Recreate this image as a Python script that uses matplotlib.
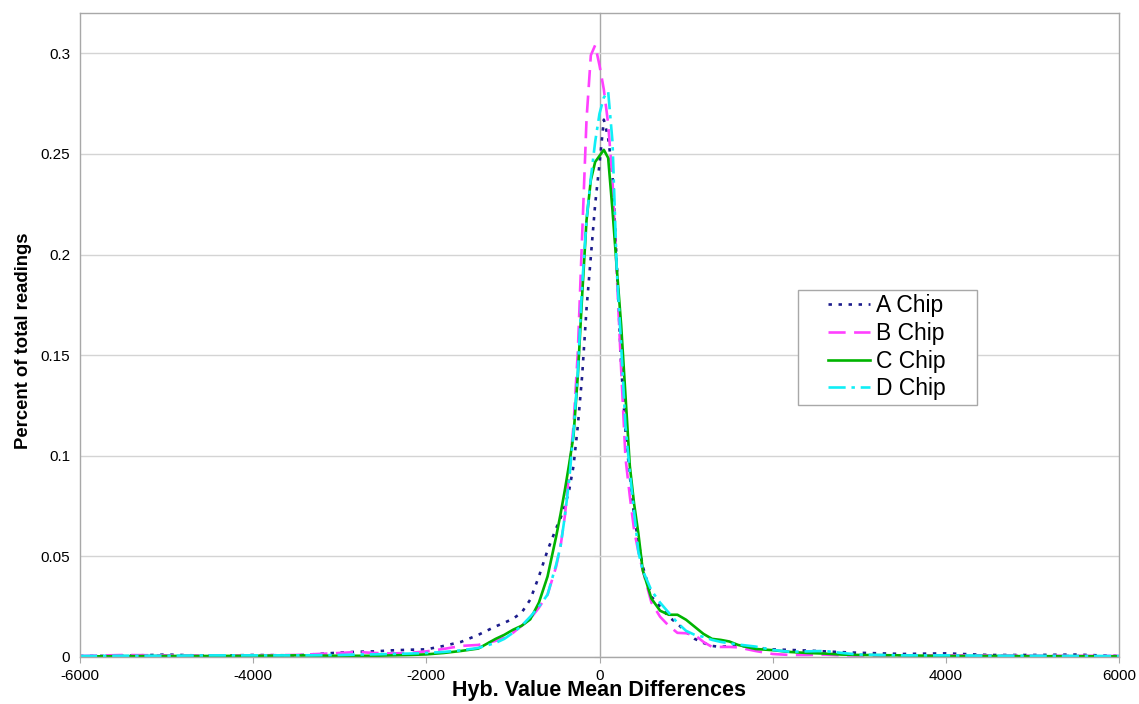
import matplotlib
matplotlib.use("Agg")
import matplotlib.pyplot as plt
from matplotlib.patches import Rectangle
from matplotlib.ticker import FuncFormatter, MultipleLocator

plt.rcParams['font.family'] = ['Liberation Sans', 'DejaVu Sans']
plt.rcParams['axes.unicode_minus'] = False

# hybridisation value differences (bin centres)
diffs = [-6000, -5500, -5000, -4500, -4000, -3500, -3000, -2800, -2600, -2400,
         -2200, -2000, -1800, -1600, -1400, -1200, -1100, -1000, -900, -800,
         -700, -600, -500, -450, -400, -350, -300, -250, -200, -150,
         -100, -50, 0, 50, 100, 150, 200, 250, 300, 350,
         400, 450, 500, 600, 700, 800, 900, 1000, 1100, 1200,
         1300, 1400, 1500, 1600, 1800, 2000, 2200, 2400, 2600, 2800,
         3000, 3500, 4000, 4500, 5000, 5500, 6000]

chip_a = [0.0005, 0.0006, 0.0012, 0.0006, 0.0010, 0.0008, 0.0022, 0.0026, 0.0028, 0.0033,
          0.0036, 0.0038, 0.0055, 0.0075, 0.0110, 0.0152, 0.0170, 0.0190, 0.0220, 0.0285,
          0.0400, 0.0530, 0.0640, 0.0690, 0.0750, 0.0830, 0.0950, 0.1150, 0.1400, 0.1730,
          0.1990, 0.2250, 0.2450, 0.2670, 0.2580, 0.2400, 0.1950, 0.1450, 0.1120, 0.0900,
          0.0700, 0.0570, 0.0450, 0.0300, 0.0250, 0.0200, 0.0165, 0.0125, 0.0090, 0.0070,
          0.0055, 0.0050, 0.0055, 0.0058, 0.0045, 0.0038, 0.0035, 0.0032, 0.0028, 0.0024,
          0.0021, 0.0015, 0.0018, 0.0010, 0.0010, 0.0012, 0.0005]

chip_b = [0.0005, 0.0010, 0.0008, 0.0007, 0.0008, 0.0010, 0.0020, 0.0025, 0.0020, 0.0018,
          0.0020, 0.0028, 0.0040, 0.0055, 0.0060, 0.0080, 0.0095, 0.0120, 0.0155, 0.0190,
          0.0245, 0.0310, 0.0450, 0.0550, 0.0700, 0.0920, 0.1150, 0.1520, 0.2100, 0.2670,
          0.2990, 0.3040, 0.2940, 0.2820, 0.2650, 0.2370, 0.1900, 0.1430, 0.0990, 0.0800,
          0.0630, 0.0520, 0.0430, 0.0270, 0.0200, 0.0155, 0.0120, 0.0118, 0.0110, 0.0075,
          0.0050, 0.0050, 0.0050, 0.0048, 0.0030, 0.0015, 0.0010, 0.0010, 0.0012, 0.0008,
          0.0008, 0.0008, 0.0008, 0.0008, 0.0006, 0.0006, 0.0005]

chip_c = [0.0003, 0.0004, 0.0005, 0.0005, 0.0006, 0.0008, 0.0006, 0.0006, 0.0006, 0.0008,
          0.0010, 0.0013, 0.0020, 0.0030, 0.0042, 0.0090, 0.0110, 0.0135, 0.0155, 0.0187,
          0.0270, 0.0400, 0.0600, 0.0710, 0.0830, 0.0960, 0.1100, 0.1400, 0.1800, 0.2170,
          0.2370, 0.2460, 0.2490, 0.2520, 0.2480, 0.2220, 0.1930, 0.1650, 0.1300, 0.0950,
          0.0760, 0.0610, 0.0430, 0.0290, 0.0230, 0.0210, 0.0210, 0.0185, 0.0150, 0.0115,
          0.0090, 0.0085, 0.0077, 0.0060, 0.0040, 0.0034, 0.0025, 0.0020, 0.0017, 0.0012,
          0.0010, 0.0008, 0.0005, 0.0005, 0.0004, 0.0004, 0.0003]

chip_d = [0.0005, 0.0006, 0.0006, 0.0008, 0.0008, 0.0008, 0.0010, 0.0012, 0.0013, 0.0015,
          0.0017, 0.0020, 0.0025, 0.0033, 0.0045, 0.0070, 0.0090, 0.0120, 0.0155, 0.0200,
          0.0250, 0.0310, 0.0460, 0.0550, 0.0700, 0.0880, 0.1120, 0.1420, 0.1850, 0.2170,
          0.2380, 0.2560, 0.2700, 0.2780, 0.2810, 0.2560, 0.1920, 0.1550, 0.1150, 0.0920,
          0.0720, 0.0520, 0.0430, 0.0330, 0.0270, 0.0220, 0.0170, 0.0130, 0.0110, 0.0100,
          0.0085, 0.0075, 0.0068, 0.0062, 0.0052, 0.0035, 0.0026, 0.0028, 0.0030, 0.0020,
          0.0012, 0.0008, 0.0008, 0.0006, 0.0006, 0.0005, 0.0005]

labels = ['A Chip', 'B Chip', 'C Chip', 'D Chip']

fig = plt.figure(figsize=(11.39, 7.04), dpi=100)
ax = fig.add_axes([80/1139, 47/704, 1039/1139, 644/704])

ax.plot(diffs, chip_a, color='#1c1c8c', lw=1.9, dashes=(1.3, 2.5), label=labels[0])
ax.plot(diffs, chip_b, color='#ff40ff', lw=1.9, dashes=(6.5, 3.2), label=labels[1])
ax.plot(diffs, chip_c, color='#00b400', lw=1.9, label=labels[2])
ax.plot(diffs, chip_d, color='#10eef6', lw=1.9, dashes=(6.5, 2.2, 1.3, 2.2), label=labels[3])

ax.set_xlim(-6000, 6000)
ax.set_ylim(0, 0.32)
ax.xaxis.set_major_locator(MultipleLocator(2000))
ax.yaxis.set_major_locator(MultipleLocator(0.05))
ax.xaxis.set_major_formatter(FuncFormatter(lambda v, p: '%d' % v))
ax.yaxis.set_major_formatter(FuncFormatter(lambda v, p: '%g' % round(v, 2)))
ax.grid(axis='y', color='#d4d4d4', lw=1)
ax.set_axisbelow(True)

for s in ax.spines.values():
    s.set_color('#a8a8a8')
    s.set_linewidth(1)
ax.tick_params(axis='y', length=0, pad=7, labelsize=11)
ax.tick_params(axis='x', length=4, direction='out', color='#a8a8a8', pad=5, labelsize=11)

# value axis crossing at zero, ticks only
mid = ax.secondary_yaxis(0.5)
for s in mid.spines.values():
    s.set_color('#a8a8a8')
    s.set_linewidth(1)
mid.yaxis.set_ticks_position('left')
mid.tick_params(axis='y', length=4, direction='out', color='#a8a8a8',
                labelleft=False, labelright=False)
mid.yaxis.set_major_locator(MultipleLocator(0.05))

ax.set_xlabel('Hyb. Value Mean Differences', fontsize=15.5, fontweight='bold')
ax.xaxis.set_label_coords(0.5, -0.036)
ax.set_ylabel('Percent of total readings', fontsize=13.3, fontweight='bold')
ax.yaxis.set_label_coords(-0.046, 0.491)

leg = ax.legend(loc='center', bbox_to_anchor=(0.777, 0.481), frameon=False,
                fontsize=16.5, handlelength=1.8, handletextpad=0.3,
                labelspacing=0.2, borderpad=0.2)
ax.add_patch(Rectangle((0.691, 0.391), 0.172, 0.179, transform=ax.transAxes,
                       facecolor='white', edgecolor='#a8a8a8', lw=1, zorder=4))
leg.set_zorder(5)

fig.savefig('out.png', dpi=100)
